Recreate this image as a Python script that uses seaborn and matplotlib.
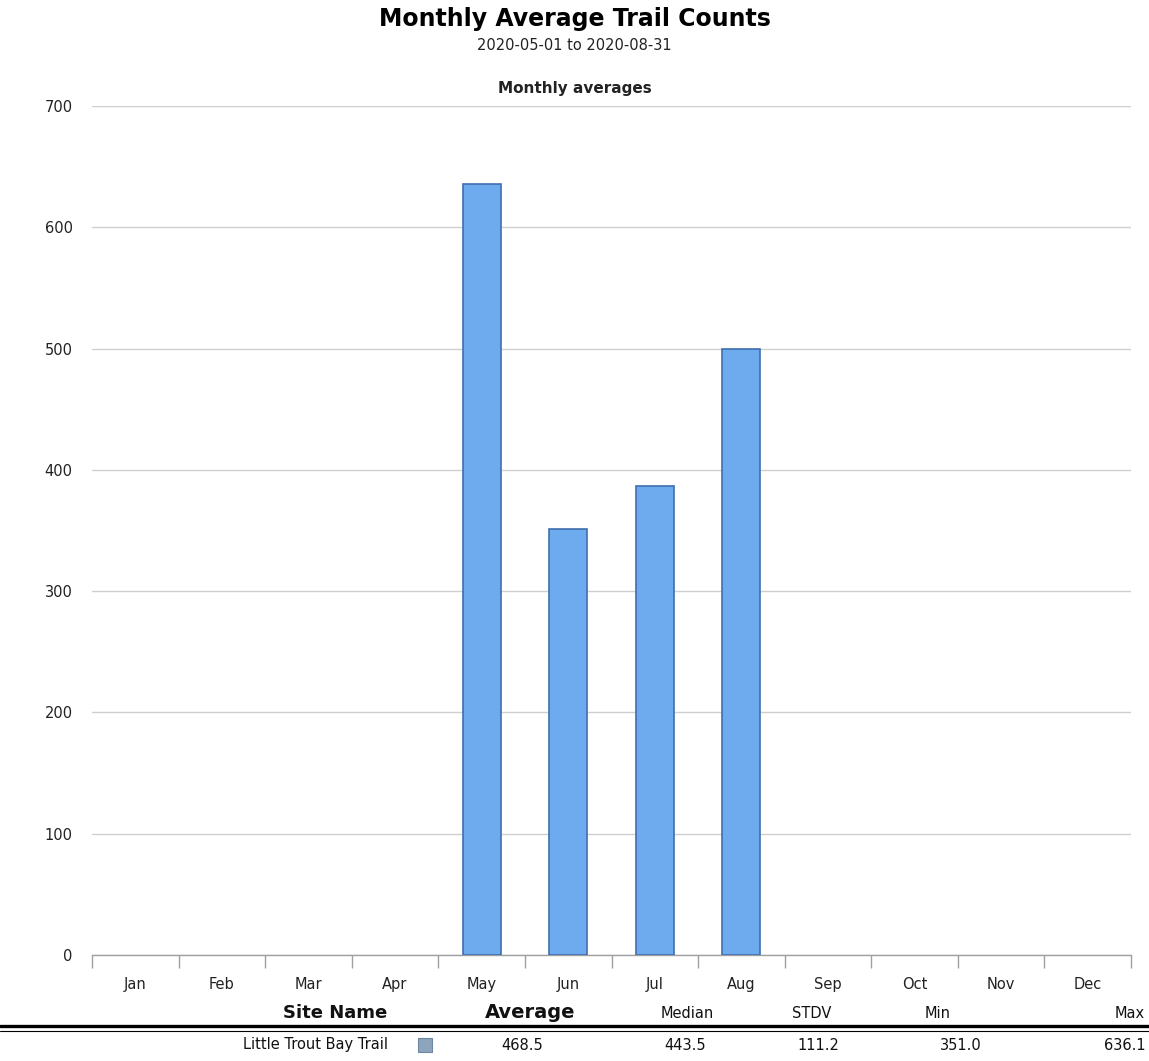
import matplotlib
matplotlib.use("Agg")
import matplotlib.pyplot as plt
from matplotlib.lines import Line2D
from matplotlib.patches import Rectangle
import pandas as pd
import seaborn as sns

# Monthly averages for the period
months = ["Jan", "Feb", "Mar", "Apr", "May", "Jun",
          "Jul", "Aug", "Sep", "Oct", "Nov", "Dec"]
data_months = ["May", "Jun", "Jul", "Aug"]
data_values = [636.1, 351.0, 387.0, 499.9]

# Summary table
table_headers = ["Site Name", "Average", "Median", "STDV", "Min", "Max"]
site_name = "Little Trout Bay Trail"
summary_values = ["468.5", "443.5", "111.2", "351.0", "636.1"]

y_ticks = [0, 100, 200, 300, 400, 500, 600, 700]

sns.set_theme(style="white")
plt.rcParams["font.family"] = ["DejaVu Sans"]

W, H = 1149, 1061
fig = plt.figure(figsize=(W / 100, H / 100), dpi=100)
fig.patch.set_facecolor("white")

left, right = 92 / W, 1131 / W
bottom, top = 1 - 955 / H, 1 - 106 / H
ax = fig.add_axes([left, bottom, right - left, top - bottom])

df = pd.DataFrame({"month": data_months, "value": data_values})
sns.barplot(data=df, x="month", y="value", order=months, width=0.44,
            color="#6eaaee", edgecolor="#3f6fae", linewidth=1.2,
            saturation=1, ax=ax, zorder=3)

ax.set_xlim(-0.5, 11.5)
ax.set_ylim(0, 700)
ax.set_yticks(y_ticks)
ax.set_yticklabels([str(v) for v in y_ticks])
ax.yaxis.grid(True, color="#cfcfcf", linewidth=1.0, zorder=0)
ax.set_axisbelow(True)
ax.set_xlabel("")
ax.set_ylabel("")

for s in ["top", "right", "left"]:
    ax.spines[s].set_visible(False)
ax.spines["bottom"].set_color("#a0a0a0")
ax.spines["bottom"].set_linewidth(1.0)

# Month labels centred on bars, tick marks at slot boundaries
ax.set_xticks(range(12))
ax.set_xticklabels(months)
ax.tick_params(axis="x", which="major", bottom=True, length=0, pad=16,
               labelsize=10.5, labelcolor="#222222")
ax.set_xticks([i - 0.5 for i in range(13)], minor=True)
ax.tick_params(axis="x", which="minor", bottom=True, length=9, width=1,
               color="#a0a0a0", direction="out", pad=0)
ax.tick_params(axis="y", length=0, pad=14, labelsize=10.5,
               labelcolor="#222222")

# Titles
fig.text(0.5, 1 - 19 / H, "Monthly Average Trail Counts", ha="center",
         va="center", fontsize=17, fontweight="bold", color="#000000")
fig.text(0.5, 1 - 46 / H, "2020-05-01 to 2020-08-31", ha="center",
         va="center", fontsize=10.5, color="#222222")
fig.text(0.5, 1 - 88 / H, "Monthly averages", ha="center",
         va="center", fontsize=11, fontweight="bold", color="#222222")

# Summary table below the chart
hy = 1 - 1013 / H
ry = 1 - 1045 / H
header_x = [335, 530, 687, 812, 938, 1130]
header_size = [13, 14, 10.5, 10.5, 10.5, 10.5]
header_weight = ["bold", "bold", "normal", "normal", "normal", "normal"]
for txt, x, fs, fw in zip(table_headers, header_x, header_size, header_weight):
    fig.text(x / W, hy, txt, ha="center", va="center", fontsize=fs,
             fontweight=fw, color="#111111")

fig.add_artist(Line2D([0, 1], [1 - 1026 / H] * 2, transform=fig.transFigure,
                      color="black", linewidth=2.4))
fig.add_artist(Line2D([0, 1], [1 - 1030.5 / H] * 2, transform=fig.transFigure,
                      color="black", linewidth=0.8))

fig.text(388 / W, ry, site_name, ha="right", va="center", fontsize=10.5,
         color="#111111")
fig.add_artist(Rectangle((418 / W, 1 - 1052 / H), 14 / W, 14 / H,
                         transform=fig.transFigure, facecolor="#8da4bd",
                         edgecolor="#6f86a0", linewidth=0.8))
value_x = [522, 685, 818, 961]
for txt, x in zip(summary_values[:-1], value_x):
    fig.text(x / W, ry, txt, ha="center", va="center", fontsize=10.5,
             color="#111111")
fig.text(1146 / W, ry, summary_values[-1], ha="right", va="center",
         fontsize=10.5, color="#111111")

fig.savefig("out.png", dpi=100, facecolor="white")
